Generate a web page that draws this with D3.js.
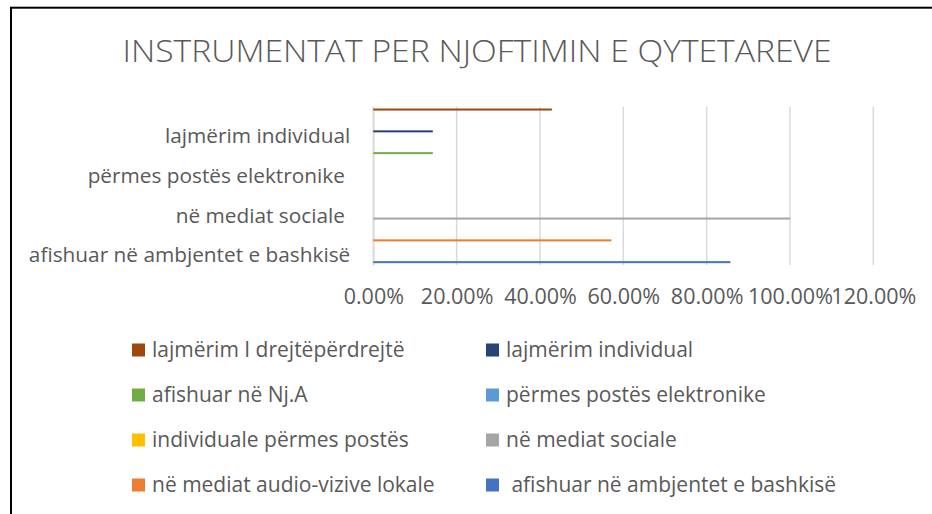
<!DOCTYPE html>
<html>
<head>
<meta charset="utf-8">
<script src="https://cdn.jsdelivr.net/npm/d3@7"></script>
<style>
  html, body { margin: 0; padding: 0; background: #fff; }
  svg { display: block; }
  text { font-family: "Open Sans", "Noto Sans", sans-serif; fill: #595959; white-space: pre; }
</style>
</head>
<body>
<div id="chart"></div>
<script>
// ---- data ----
const title = "INSTRUMENTAT PER NJOFTIMIN E QYTETAREVE";
// categories, bottom to top (Excel order)
const categories = [
  "afishuar në ambjentet e bashkisë",
  "në mediat audio-vizive lokale",
  "në mediat sociale ",
  "individuale përmes postës",
  "përmes postës elektronike ",
  "afishuar në Nj.A",
  "lajmërim individual",
  "lajmërim I drejtëpërdrejtë"
];
// series (one per category, same order)
const seriesNames = [
  " afishuar në ambjentet e bashkisë",
  "në mediat audio-vizive lokale",
  "në mediat sociale",
  "individuale përmes postës",
  "përmes postës elektronike",
  "afishuar në Nj.A",
  "lajmërim individual",
  "lajmërim I drejtëpërdrejtë"
];
const seriesColors = ["#4472C4", "#ED7D31", "#A5A5A5", "#FFC000", "#5B9BD5", "#70AD47", "#264478", "#9E480E"];
// value of each series in its own category
const seriesValues = [0.8571, 0.5714, 1.0, 0, 0, 0.1429, 0.1429, 0.4286];
const xTicks = [0, 0.2, 0.4, 0.6, 0.8, 1.0, 1.2];

// ---- layout ----
const W = 932, H = 514;
const plot = { left: 373.3, right: 873.3, top: 106.7, bottom: 265 };

const svg = d3.select("#chart").append("svg")
  .attr("width", W).attr("height", H);

svg.append("rect").attr("x", 0).attr("y", 0).attr("width", W).attr("height", H).attr("fill", "#fff");
// chart border (extends beyond the right/bottom edge)
svg.append("rect")
  .attr("x", 11).attr("y", 7.7).attr("width", 960).attr("height", 540)
  .attr("fill", "none").attr("stroke", "#000").attr("stroke-width", 2);

// title
svg.append("text")
  .attr("x", 477).attr("y", 62)
  .attr("text-anchor", "middle")
  .attr("textLength", 709)
  .attr("lengthAdjust", "spacingAndGlyphs")
  .style("font-size", "31px")
  .style("font-weight", 300)
  .text(title);

const x = d3.scaleLinear().domain([0, 1.2]).range([plot.left, plot.right]);
const y0 = d3.scaleBand().domain(categories).range([plot.bottom, plot.top]).paddingInner(0).paddingOuter(0);
const y1 = d3.scaleBand().domain(d3.range(seriesNames.length)).range([y0.bandwidth(), 0])
  .paddingInner(0).paddingOuter(0.91);

// gridlines
const grid = svg.append("g");
grid.selectAll("line").data(xTicks).join("line")
  .attr("x1", d => x(d)).attr("x2", d => x(d))
  .attr("y1", plot.top).attr("y2", plot.bottom)
  .attr("stroke", "#d9d9d9").attr("stroke-width", 1.5);

// x tick labels
const xAxis = d3.axisBottom(x).tickValues(xTicks).tickFormat(d3.format(".2%")).tickSize(0).tickPadding(0);
const gx = svg.append("g").attr("transform", `translate(0,${plot.bottom})`).call(xAxis);
gx.select(".domain").remove();
gx.selectAll("text")
  .attr("y", 39).attr("dy", 0)
  .style("font-size", "21.5px").attr("fill", "#595959")
  .style("font-family", "'Open Sans', sans-serif");

// y axis: category labels (every other shown, like the reference)
const yAxis = d3.axisLeft(y0).tickSize(0).tickPadding(0)
  .tickValues(categories.filter((d, i) => i % 2 === 0));
const gy = svg.append("g").attr("transform", `translate(${plot.left},0)`).call(yAxis);
gy.select(".domain").attr("stroke", "#d9d9d9").attr("stroke-width", 1.5);
gy.selectAll("text")
  .attr("x", -23).attr("dy", "0.34em")
  .style("font-size", "20.8px").attr("fill", "#595959")
  .style("font-family", "'Open Sans', sans-serif")
  .style("white-space", "pre");

// bars
svg.append("g").selectAll("rect")
  .data(seriesValues.map((v, i) => ({ i, v, cat: categories[i] })))
  .join("rect")
  .attr("x", x(0))
  .attr("y", d => y0(d.cat) + y1(d.i))
  .attr("width", d => x(d.v) - x(0))
  .attr("height", y1.bandwidth())
  .attr("fill", d => seriesColors[d.i]);

// legend (reverse series order, two columns)
const legendOrder = d3.range(seriesNames.length).reverse();
const colX = [132, 486];
const rowY = [350, 395, 440, 485];
const lg = svg.append("g");
legendOrder.forEach((si, k) => {
  const cx = colX[k % 2], cy = rowY[Math.floor(k / 2)];
  lg.append("rect").attr("x", cx).attr("y", cy - 6.5).attr("width", 13).attr("height", 13)
    .attr("fill", seriesColors[si]);
  lg.append("text").attr("x", cx + 20).attr("y", cy).attr("dy", "0.33em")
    .style("font-size", "21px")
    .text(seriesNames[si]);
});
</script>
</body>
</html>
